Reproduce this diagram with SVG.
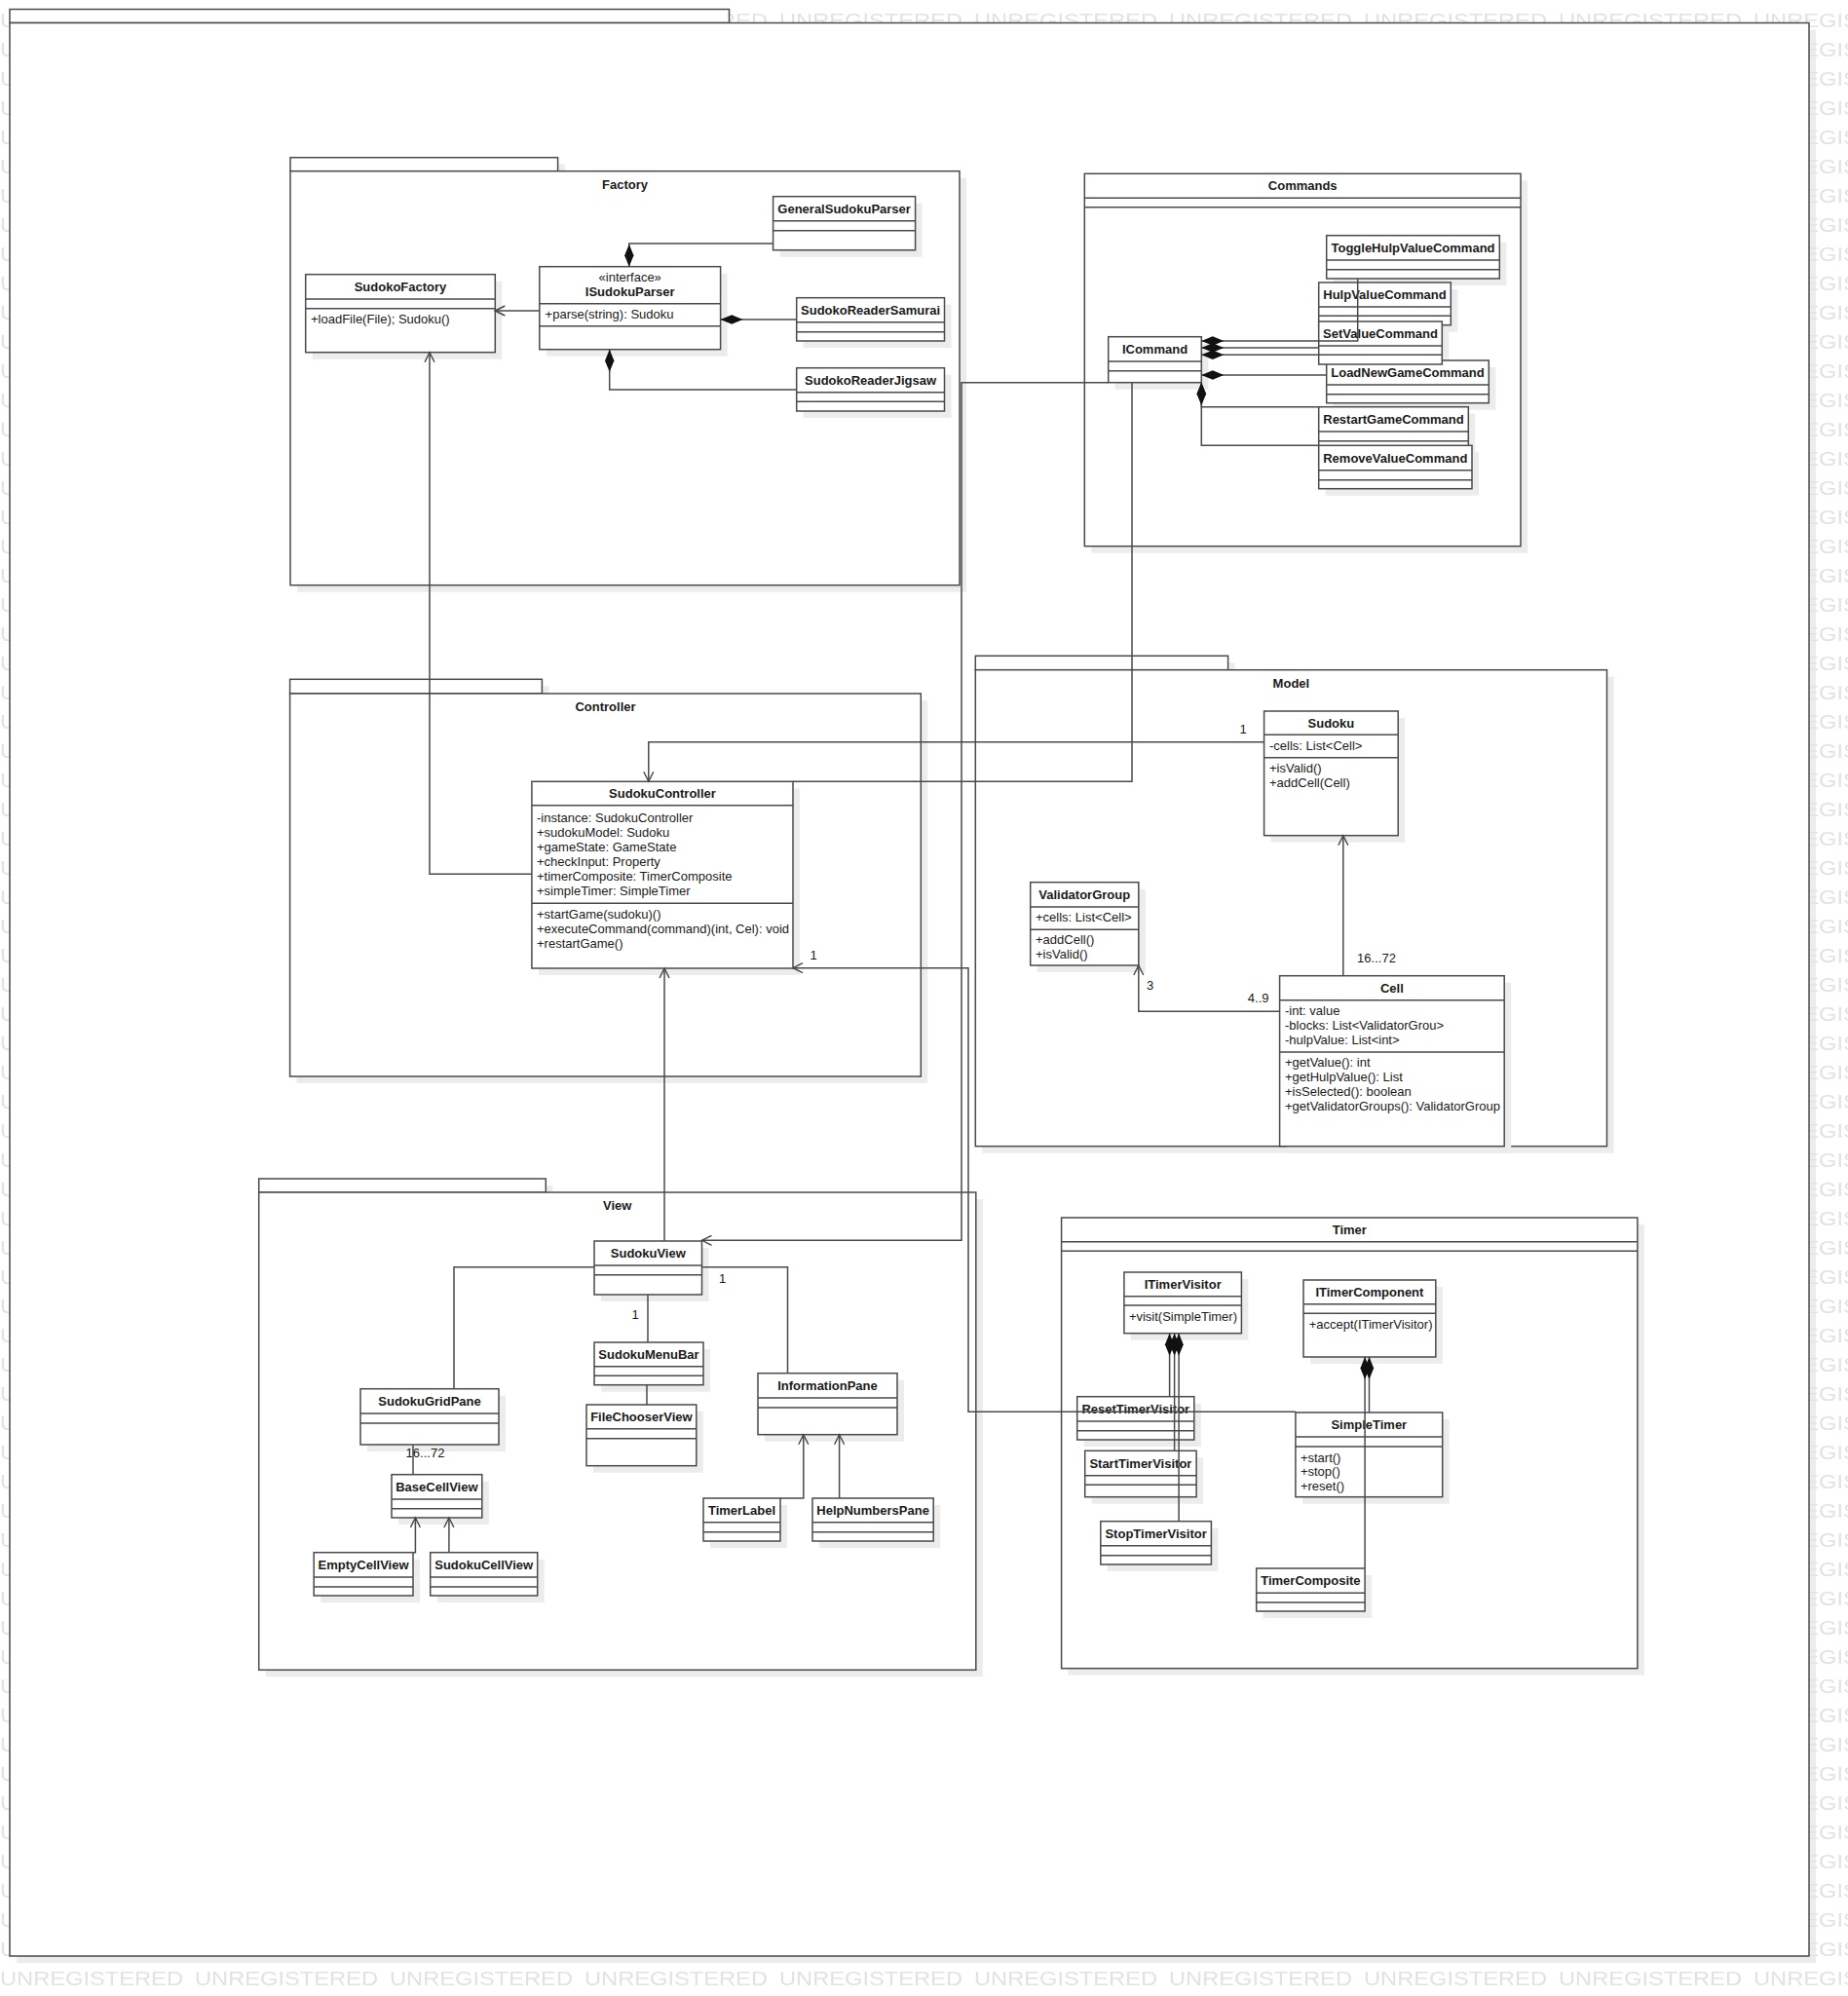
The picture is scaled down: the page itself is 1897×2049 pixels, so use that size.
<svg xmlns="http://www.w3.org/2000/svg" width="1897" height="2049" viewBox="0 0 1897 2049">
<defs>
<style>
.sh{fill:#ececec}
.bx{fill:#fff;stroke:#4a4a4a;stroke-width:1.5}
.dv{fill:none;stroke:#4a4a4a;stroke-width:1.5}
.ln{fill:none;stroke:#4a4a4a;stroke-width:1.5}
text{font-family:"Liberation Sans",Arial,sans-serif;font-size:13px;fill:#1a1a1a}
.nm{font-weight:bold;text-anchor:middle}
.c{text-anchor:middle}
.wm{font-size:21px;fill:#e2e2e2}
</style>
<pattern id="wmTile" patternUnits="userSpaceOnUse" x="0" y="0" width="200" height="30">
<text class="wm" x="0" y="28.3" textLength="188" lengthAdjust="spacingAndGlyphs">UNREGISTERED</text>
</pattern>
<marker id="arrow" markerUnits="userSpaceOnUse" markerWidth="14" markerHeight="14" viewBox="-12 -7 14 14" refX="0" refY="0" orient="auto">
<path d="M-10,-5 L0,0 L-10,5" fill="none" stroke="#444" stroke-width="1.4"/>
</marker>
<marker id="diamond" markerUnits="userSpaceOnUse" markerWidth="26" markerHeight="12" viewBox="-24 -6 26 12" refX="0" refY="0" orient="auto">
<path d="M0,0 L-11.5,-4.7 L-23,0 L-11.5,4.7 Z" fill="#111"/>
</marker>
</defs>

<!-- background, frame shadow and watermark tiling -->
<rect width="1897" height="2049" fill="#fff"/>
<rect class="sh" x="17" y="30.5" width="1847" height="1984.5"/>
<rect width="1897" height="2049" fill="url(#wmTile)"/>

<!-- outer frame -->
<g id="frame">
<rect class="bx" x="10" y="9.5" width="738.5" height="14"/>
<rect class="bx" x="10" y="23.5" width="1847" height="1984.5"/>
</g>

<!-- packages -->
<g id="pkg-factory">
<rect class="sh" x="305" y="168.7" width="274.6" height="14"/>
<rect class="sh" x="305" y="182.7" width="687" height="425"/>
<rect class="bx" x="298" y="161.7" width="274.6" height="14"/>
<rect class="bx" x="298" y="175.7" width="687" height="425"/>
<text class="nm" x="641.5" y="194">Factory</text>
</g>
<g id="pkg-controller">
<rect class="sh" x="304.6" y="704.3" width="258.8" height="14.7"/>
<rect class="sh" x="304.6" y="719" width="647.7" height="393"/>
<rect class="bx" x="297.6" y="697.3" width="258.8" height="14.7"/>
<rect class="bx" x="297.6" y="712" width="647.7" height="393"/>
<text class="nm" x="621.5" y="729.6">Controller</text>
</g>
<g id="pkg-model">
<rect class="sh" x="1008.3" y="680.3" width="259.3" height="14.4"/>
<rect class="sh" x="1008.3" y="694.7" width="648.2" height="489"/>
<rect class="bx" x="1001.3" y="673.3" width="259.3" height="14.4"/>
<rect class="bx" x="1001.3" y="687.7" width="648.2" height="489"/>
<text class="nm" x="1325.4" y="705.6">Model</text>
</g>
<g id="pkg-view">
<rect class="sh" x="272.7" y="1217" width="294.6" height="14"/>
<rect class="sh" x="272.7" y="1231" width="736.1" height="490.3"/>
<rect class="bx" x="265.7" y="1210" width="294.6" height="14"/>
<rect class="bx" x="265.7" y="1224" width="736.1" height="490.3"/>
<text class="nm" x="633.7" y="1242">View</text>
</g>
<g id="pkg-commands">
<rect class="sh" x="1120.3" y="185.3" width="447.7" height="382.4"/>
<rect class="bx" x="1113.3" y="178.3" width="447.7" height="382.4"/>
<path class="dv" d="M1113.3,203.3H1561M1113.3,212.7H1561"/>
<text class="nm" x="1337.2" y="195.3">Commands</text>
</g>
<g id="pkg-timer">
<rect class="sh" x="1096.6" y="1257" width="591.3" height="462.7"/>
<rect class="bx" x="1089.6" y="1250" width="591.3" height="462.7"/>
<path class="dv" d="M1089.6,1274.7H1680.9M1089.6,1284.3H1680.9"/>
<text class="nm" x="1385.3" y="1267.3">Timer</text>
</g>

<!-- drop shadows of the classes, laid under every class box -->
<g id="class-shadows" class="sh">
<rect x="320.7" y="288.7" width="194.6" height="80"/>
<rect x="560.8" y="280.7" width="185.8" height="85"/>
<rect x="800.6" y="208.7" width="146" height="55"/>
<rect x="824.7" y="312.7" width="151.8" height="44.3"/>
<rect x="824.7" y="384.7" width="151.8" height="44.3"/>
<rect x="1368.7" y="248.7" width="177.6" height="44.3"/>
<rect x="1360.7" y="297" width="135.6" height="43.7"/>
<rect x="1368.7" y="377" width="166.6" height="43.7"/>
<rect x="1360.7" y="337" width="126.6" height="44"/>
<rect x="1360.7" y="424.7" width="153.6" height="44.3"/>
<rect x="1360.7" y="464.3" width="157.3" height="44.4"/>
<rect x="1144.7" y="352.7" width="95.6" height="47"/>
<rect x="1304.6" y="737" width="137.6" height="127.7"/>
<rect x="1064.7" y="912.7" width="111.1" height="85.3"/>
<rect x="1320.6" y="1008.7" width="230.6" height="175"/>
<rect x="552.9" y="809.3" width="268.1" height="191.7"/>
<rect x="617" y="1281" width="110.5" height="55"/>
<rect x="617" y="1385" width="112" height="43.7"/>
<rect x="609" y="1449" width="112.8" height="62.7"/>
<rect x="377" y="1432.7" width="142" height="57.3"/>
<rect x="409" y="1520.7" width="92.8" height="44.3"/>
<rect x="329.2" y="1600.7" width="101.8" height="44.3"/>
<rect x="448.7" y="1600.7" width="110" height="44.3"/>
<rect x="785" y="1416.7" width="143" height="63"/>
<rect x="729" y="1545" width="79" height="44"/>
<rect x="841" y="1545" width="124.2" height="44"/>
<rect x="1160.9" y="1313" width="120.5" height="62.7"/>
<rect x="1345" y="1321" width="135.8" height="79"/>
<rect x="1112.7" y="1440.7" width="120.1" height="44.3"/>
<rect x="1120.7" y="1496.3" width="114.4" height="47.4"/>
<rect x="1136.8" y="1568.7" width="113.6" height="44.3"/>
<rect x="1336.9" y="1457" width="150.8" height="86.7"/>
<rect x="1296.7" y="1617" width="111.4" height="44"/>
</g>

<!-- Factory classes -->
<g id="SudokoFactory">
<rect class="bx" x="313.7" y="281.7" width="194.6" height="80"/>
<path class="dv" d="M313.7,307H508.3M313.7,316.7H508.3"/>
<text class="nm" x="411" y="299">SudokoFactory</text>
<text x="319" y="332.3">+loadFile(File); Sudoku()</text>
</g>
<g id="ISudokuParser">
<rect class="bx" x="553.8" y="273.7" width="185.8" height="85"/>
<path class="dv" d="M553.8,311.7H739.6M553.8,334.7H739.6"/>
<text class="c" x="646.7" y="288.7">«interface»</text>
<text class="nm" x="646.7" y="304">ISudokuParser</text>
<text x="559.6" y="327.3">+parse(string): Sudoku</text>
</g>
<g id="GeneralSudokuParser">
<rect class="bx" x="793.6" y="201.7" width="146" height="55"/>
<path class="dv" d="M793.6,226.7H939.6M793.6,236.7H939.6"/>
<text class="nm" x="866.6" y="219">GeneralSudokuParser</text>
</g>
<g id="SudokoReaderSamurai">
<rect class="bx" x="817.7" y="305.7" width="151.8" height="44.3"/>
<path class="dv" d="M817.7,330.7H969.5M817.7,340.7H969.5"/>
<text class="nm" x="893.6" y="323">SudokoReaderSamurai</text>
</g>
<g id="SudokoReaderJigsaw">
<rect class="bx" x="817.7" y="377.7" width="151.8" height="44.3"/>
<path class="dv" d="M817.7,402.7H969.5M817.7,412.3H969.5"/>
<text class="nm" x="893.6" y="395">SudokoReaderJigsaw</text>
</g>

<!-- Commands classes -->
<g id="ToggleHulpValueCommand">
<rect class="bx" x="1361.7" y="241.7" width="177.6" height="44.3"/>
<path class="dv" d="M1361.7,267H1539.3M1361.7,276.7H1539.3"/>
<text class="nm" x="1450.5" y="259">ToggleHulpValueCommand</text>
</g>
<g id="HulpValueCommand">
<rect class="bx" x="1353.7" y="290" width="135.6" height="43.7"/>
<path class="dv" d="M1353.7,315H1489.3M1353.7,324.3H1489.3"/>
<text class="nm" x="1421.5" y="307.3">HulpValueCommand</text>
</g>
<g id="LoadNewGameCommand">
<rect class="bx" x="1361.7" y="370" width="166.6" height="43.7"/>
<path class="dv" d="M1361.7,395H1528.3M1361.7,404.7H1528.3"/>
<text class="nm" x="1445" y="387">LoadNewGameCommand</text>
</g>
<g id="SetValueCommand">
<rect class="bx" x="1353.7" y="330" width="126.6" height="44"/>
<path class="dv" d="M1353.7,355H1480.3M1353.7,364.3H1480.3"/>
<text class="nm" x="1417" y="347">SetValueCommand</text>
</g>
<g id="RestartGameCommand">
<rect class="bx" x="1353.7" y="417.7" width="153.6" height="44.3"/>
<path class="dv" d="M1353.7,443H1507.3M1353.7,452.7H1507.3"/>
<text class="nm" x="1430.5" y="434.7">RestartGameCommand</text>
</g>
<g id="RemoveValueCommand">
<rect class="bx" x="1353.7" y="457.3" width="157.3" height="44.4"/>
<path class="dv" d="M1353.7,482.7H1511M1353.7,492.7H1511"/>
<text class="nm" x="1432.3" y="474.7">RemoveValueCommand</text>
</g>
<g id="ICommand">
<rect class="bx" x="1137.7" y="345.7" width="95.6" height="47"/>
<path class="dv" d="M1137.7,371H1233.3M1137.7,380.7H1233.3"/>
<text class="nm" x="1185.5" y="363">ICommand</text>
</g>

<!-- Model classes -->
<g id="Sudoku">
<rect class="bx" x="1297.6" y="730" width="137.6" height="127.7"/>
<path class="dv" d="M1297.6,754.3H1435.2M1297.6,777.7H1435.2"/>
<text class="nm" x="1366.4" y="747">Sudoku</text>
<text x="1303" y="770">-cells: List&lt;Cell&gt;</text>
<text x="1303" y="793.3">+isValid()</text>
<text x="1303" y="808.3">+addCell(Cell)</text>
</g>
<g id="ValidatorGroup">
<rect class="bx" x="1057.7" y="905.7" width="111.1" height="85.3"/>
<path class="dv" d="M1057.7,931H1168.8M1057.7,954.3H1168.8"/>
<text class="nm" x="1113.2" y="923">ValidatorGroup</text>
<text x="1063" y="946">+cells: List&lt;Cell&gt;</text>
<text x="1063" y="969.3">+addCell()</text>
<text x="1063" y="984">+isValid()</text>
</g>
<g id="Cell">
<rect class="bx" x="1313.6" y="1001.7" width="230.6" height="175"/>
<path class="dv" d="M1313.6,1026.7H1544.2M1313.6,1080H1544.2"/>
<text class="nm" x="1428.9" y="1018.6">Cell</text>
<text x="1319" y="1042">-int: value</text>
<text x="1319" y="1057">-blocks: List&lt;ValidatorGrou&gt;</text>
<text x="1319" y="1072">-hulpValue: List&lt;int&gt;</text>
<text x="1319" y="1095.3">+getValue(): int</text>
<text x="1319" y="1110.3">+getHulpValue(): List</text>
<text x="1319" y="1125.3">+isSelected(): boolean</text>
<text x="1319" y="1140.3">+getValidatorGroups(): ValidatorGroup</text>
</g>

<!-- Controller class -->
<g id="SudokuController">
<rect class="bx" x="545.9" y="802.3" width="268.1" height="191.7"/>
<path class="dv" d="M545.9,826.7H814M545.9,927.3H814"/>
<text class="nm" x="680" y="819">SudokuController</text>
<text x="551" y="844">-instance: SudokuController</text>
<text x="551" y="859">+sudokuModel: Sudoku</text>
<text x="551" y="874">+gameState: GameState</text>
<text x="551" y="889">+checkInput: Property</text>
<text x="551" y="904">+timerComposite: TimerComposite</text>
<text x="551" y="919">+simpleTimer: SimpleTimer</text>
<text x="551" y="942.5">+startGame(sudoku)()</text>
<text x="551" y="957.5">+executeCommand(command)(int, Cel): void</text>
<text x="551" y="972.5">+restartGame()</text>
</g>

<!-- View classes -->
<g id="SudokuView">
<rect class="bx" x="610" y="1274" width="110.5" height="55"/>
<path class="dv" d="M610,1299H720.5M610,1308.7H720.5"/>
<text class="nm" x="665.3" y="1291.3">SudokuView</text>
</g>
<g id="SudokuMenuBar">
<rect class="bx" x="610" y="1378" width="112" height="43.7"/>
<path class="dv" d="M610,1402.7H722M610,1412.3H722"/>
<text class="nm" x="666" y="1395.3">SudokuMenuBar</text>
</g>
<g id="FileChooserView">
<rect class="bx" x="602" y="1442" width="112.8" height="62.7"/>
<path class="dv" d="M602,1466.7H714.8M602,1476.7H714.8"/>
<text class="nm" x="658.4" y="1459">FileChooserView</text>
</g>
<g id="SudokuGridPane">
<rect class="bx" x="370" y="1425.7" width="142" height="57.3"/>
<path class="dv" d="M370,1451H512M370,1461H512"/>
<text class="nm" x="441" y="1443">SudokuGridPane</text>
</g>
<g id="BaseCellView">
<rect class="bx" x="402" y="1513.7" width="92.8" height="44.3"/>
<path class="dv" d="M402,1539H494.8M402,1548.7H494.8"/>
<text class="nm" x="448.4" y="1531">BaseCellView</text>
</g>
<g id="EmptyCellView">
<rect class="bx" x="322.2" y="1593.7" width="101.8" height="44.3"/>
<path class="dv" d="M322.2,1619H424M322.2,1629H424"/>
<text class="nm" x="373.1" y="1610.7">EmptyCellView</text>
</g>
<g id="SudokuCellView">
<rect class="bx" x="441.7" y="1593.7" width="110" height="44.3"/>
<path class="dv" d="M441.7,1619H551.7M441.7,1629H551.7"/>
<text class="nm" x="496.7" y="1610.7">SudokuCellView</text>
</g>
<g id="InformationPane">
<rect class="bx" x="778" y="1409.7" width="143" height="63"/>
<path class="dv" d="M778,1435H921M778,1445H921"/>
<text class="nm" x="849.5" y="1427">InformationPane</text>
</g>
<g id="TimerLabel">
<rect class="bx" x="722" y="1538" width="79" height="44"/>
<path class="dv" d="M722,1562.7H801M722,1572.7H801"/>
<text class="nm" x="761.5" y="1555.3">TimerLabel</text>
</g>
<g id="HelpNumbersPane">
<rect class="bx" x="834" y="1538" width="124.2" height="44"/>
<path class="dv" d="M834,1562.7H958.2M834,1572.7H958.2"/>
<text class="nm" x="896.1" y="1555.3">HelpNumbersPane</text>
</g>

<!-- Timer classes -->
<g id="ITimerVisitor">
<rect class="bx" x="1153.9" y="1306" width="120.5" height="62.7"/>
<path class="dv" d="M1153.9,1330.7H1274.4M1153.9,1340H1274.4"/>
<text class="nm" x="1214.2" y="1323">ITimerVisitor</text>
<text x="1158.9" y="1356">+visit(SimpleTimer)</text>
</g>
<g id="ITimerComponent">
<rect class="bx" x="1338" y="1314" width="135.8" height="79"/>
<path class="dv" d="M1338,1338.7H1473.8M1338,1348.3H1473.8"/>
<text class="nm" x="1405.9" y="1331.3">ITimerComponent</text>
<text x="1343.7" y="1363.6">+accept(ITimerVisitor)</text>
</g>
<g id="ResetTimerVisitor">
<rect class="bx" x="1105.7" y="1433.7" width="120.1" height="44.3"/>
<path class="dv" d="M1105.7,1459H1225.8M1105.7,1468.7H1225.8"/>
<text class="nm" x="1165.8" y="1451.3">ResetTimerVisitor</text>
</g>
<g id="StartTimerVisitor">
<rect class="bx" x="1113.7" y="1489.3" width="114.4" height="47.4"/>
<path class="dv" d="M1113.7,1514.7H1228.1M1113.7,1524.3H1228.1"/>
<text class="nm" x="1170.9" y="1507">StartTimerVisitor</text>
</g>
<g id="StopTimerVisitor">
<rect class="bx" x="1129.8" y="1561.7" width="113.6" height="44.3"/>
<path class="dv" d="M1129.8,1586.7H1243.4M1129.8,1596.7H1243.4"/>
<text class="nm" x="1186.6" y="1579">StopTimerVisitor</text>
</g>
<g id="SimpleTimer">
<rect class="bx" x="1329.9" y="1450" width="150.8" height="86.7"/>
<path class="dv" d="M1329.9,1475H1480.7M1329.9,1485H1480.7"/>
<text class="nm" x="1405.3" y="1467">SimpleTimer</text>
<text x="1334.9" y="1500.6">+start()</text>
<text x="1334.9" y="1515.3">+stop()</text>
<text x="1334.9" y="1530.3">+reset()</text>
</g>
<g id="TimerComposite">
<rect class="bx" x="1289.7" y="1610" width="111.4" height="44"/>
<path class="dv" d="M1289.7,1635.3H1401.1M1289.7,1645H1401.1"/>
<text class="nm" x="1345.4" y="1627">TimerComposite</text>
</g>

<!-- connectors -->
<g id="connectors">
<!-- Factory -->
<path class="ln" d="M553.8,319H508.3" marker-end="url(#arrow)"/>
<path class="ln" d="M793.6,250H645.8V273.7" marker-end="url(#diamond)"/>
<path class="ln" d="M817.7,328H739.6" marker-end="url(#diamond)"/>
<path class="ln" d="M817.7,400H625.7V358.7" marker-end="url(#diamond)"/>
<path class="ln" d="M545.9,897.3H441V361.7" marker-end="url(#arrow)"/>
<!-- Commands -->
<path class="ln" d="M1393.7,286V350H1233.3" marker-end="url(#diamond)"/>
<path class="ln" d="M1353.7,357H1233.3" marker-end="url(#diamond)"/>
<path class="ln" d="M1353.7,364.3H1233.3" marker-end="url(#diamond)"/>
<path class="ln" d="M1361.7,385H1233.3" marker-end="url(#diamond)"/>
<path class="ln" d="M1353.7,417.7H1233.3V392.7" marker-end="url(#diamond)"/>
<path class="ln" d="M1353.7,457.3H1233.3V392.7" marker-end="url(#diamond)"/>
<!-- between packages -->
<path class="ln" d="M1137.7,392.7H987V1273.3H720.5" marker-end="url(#arrow)"/>
<path class="ln" d="M1162,392.7V802.3H814"/>
<path class="ln" d="M1297.6,761.7H665.8V802.3" marker-end="url(#arrow)"/>
<path class="ln" d="M1329.9,1449.3H994V993.7H814" marker-end="url(#arrow)"/>
<path class="ln" d="M682,1274V994" marker-end="url(#arrow)"/>
<!-- Model -->
<path class="ln" d="M1378.8,1001.7V857.7" marker-end="url(#arrow)"/>
<path class="ln" d="M1313.6,1038.3H1168.8V991" marker-end="url(#arrow)"/>
<!-- View -->
<path class="ln" d="M610,1300.7H466V1425.7"/>
<path class="ln" d="M720.5,1300.7H808.5V1409.7"/>
<path class="ln" d="M665,1329V1378"/>
<path class="ln" d="M664,1421.7V1442"/>
<path class="ln" d="M424,1483V1513.7"/>
<path class="ln" d="M424,1593.7H426.4V1558" marker-end="url(#arrow)"/>
<path class="ln" d="M460.9,1593.7V1558" marker-end="url(#arrow)"/>
<path class="ln" d="M801,1538H824.8V1472.7" stroke-width="2.2" marker-end="url(#arrow)"/>
<path class="ln" d="M861.6,1538V1472.7" marker-end="url(#arrow)"/>
<!-- Timer -->
<path class="ln" d="M1200.6,1433.7V1368.7" marker-end="url(#diamond)"/>
<path class="ln" d="M1205.6,1489.3V1368.7" marker-end="url(#diamond)"/>
<path class="ln" d="M1210.1,1561.7V1368.7" marker-end="url(#diamond)"/>
<path class="ln" d="M1405.5,1450V1393" marker-end="url(#diamond)"/>
<path class="ln" d="M1401.1,1610V1393" marker-end="url(#diamond)"/>
<!-- multiplicities -->
<text class="c" x="1276" y="753">1</text>
<text class="c" x="835" y="985.3">1</text>
<text class="c" x="1413" y="988">16...72</text>
<text class="c" x="1180.6" y="1016.3">3</text>
<text class="c" x="1291.7" y="1028.6">4..9</text>
<text class="c" x="741.6" y="1317">1</text>
<text class="c" x="652.2" y="1354">1</text>
<text class="c" x="436.5" y="1496.3">16...72</text>
</g>
</svg>
